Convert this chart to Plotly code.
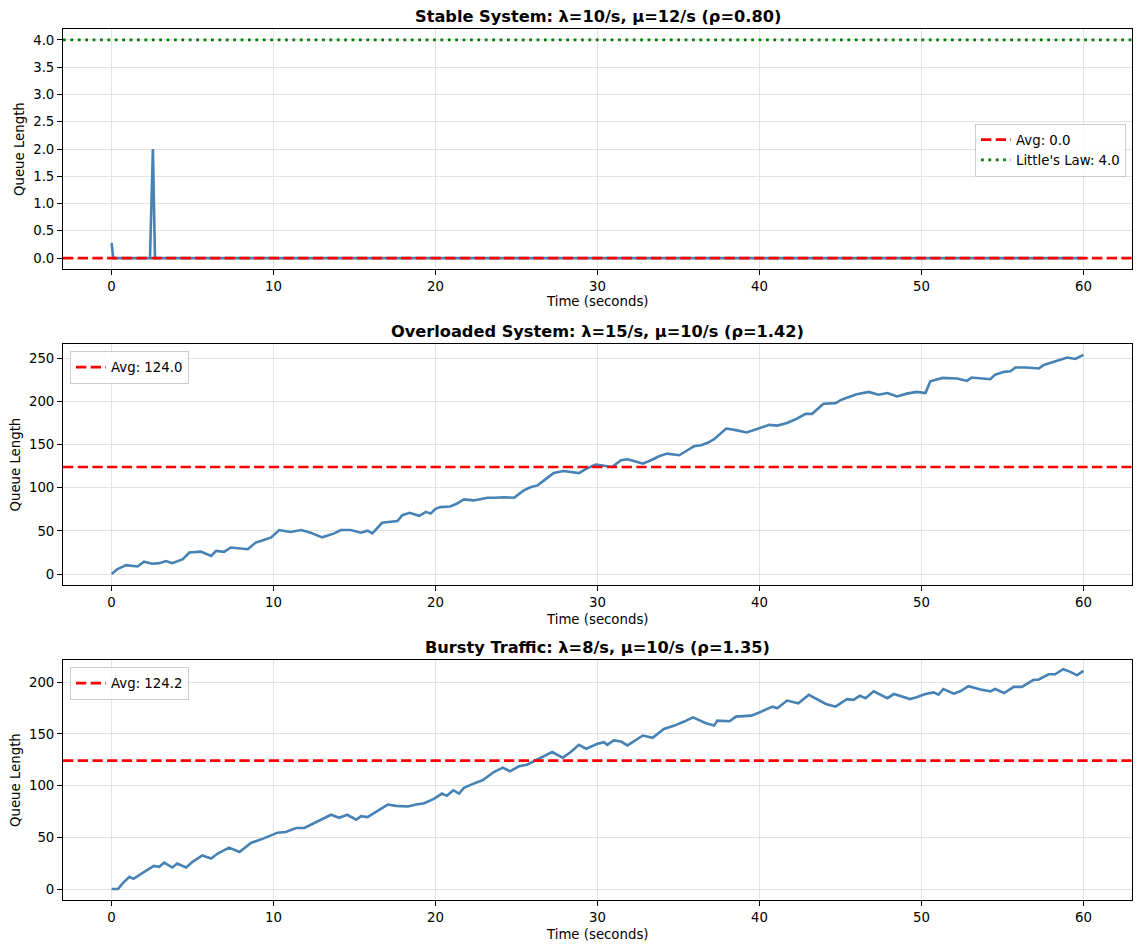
import plotly.graph_objects as go

# ---------------- data ----------------
# Panel 1: stable system
t_stable = [0.0, 0.1, 2.37, 2.45, 2.55, 2.68, 60.0]
q_stable = [0.28, 0.0, 0.0, 0.75, 2.0, 0.0, 0.0]
avg_stable = 0.0
littles_law = 4.0

# Panel 2: overloaded system
t_over = [0, 0.37, 0.9, 1.6, 2.0, 2.5, 2.95, 3.35, 3.75, 4.4, 4.8, 5.5, 6.15, 6.45, 6.95, 7.35,
          8.4, 8.9, 9.4, 9.85, 10.35, 11.05, 11.7, 12.3, 13.0, 13.75, 14.15, 14.75, 15.4, 15.8,
          16.1, 16.7, 17.65, 17.95, 18.4, 19.0, 19.4, 19.7, 20.0, 20.3, 20.9, 21.3, 21.75, 22.35,
          22.9, 23.2, 23.7, 24.2, 24.85, 25.45, 25.9, 26.3, 26.7, 27.3, 27.9, 28.35, 28.85, 29.4,
          29.9, 30.2, 30.6, 30.9, 31.45, 31.85, 32.25, 32.8, 33.3, 33.8, 34.3, 35.05, 35.55, 35.95,
          36.4, 36.8, 37.2, 37.5, 37.95, 38.55, 39.2, 39.86, 40.6, 41.1, 41.7, 42.2, 42.85, 43.25,
          43.95, 44.7, 45.1, 46.0, 46.75, 47.35, 47.9, 48.5, 49.1, 49.7, 50.25, 50.55, 51.3, 52.2,
          52.8, 53.1, 54.25, 54.55, 55.1, 55.5, 55.8, 56.5, 57.25, 57.55, 58.15, 59.0, 59.5, 60.0]
q_over = [0, 5.7, 10.3, 8.8, 14.2, 11.9, 12.6, 15, 12.6, 17.2, 24.9, 26, 21, 26.8, 25.7, 30.7,
          28.7, 36.4, 39.5, 42.5, 51, 48.7, 51, 47.9, 42.5, 47.1, 51, 51, 47.9, 50.2,
          47.1, 59.4, 61.3, 68.2, 70.9, 67.4, 72, 70, 75.6, 77.5, 78.3, 81.4, 86.4, 85.3,
          87.2, 88.4, 88.4, 89, 88.4, 96.9, 100.8, 102.7, 108.5, 117, 119.4, 118.2, 117, 122.9,
          126.7, 126, 124.8, 124, 131.8, 133, 131, 127.9, 131.8, 136.4, 139.5, 137.6, 143.4, 148,
          149.2, 152, 156.2, 160.9, 168.6, 166.7, 164, 168, 172.8, 172, 175, 179, 185.6, 185.6,
          197.3, 198, 202.3, 208.2, 211, 207.8, 209.7, 205.8, 209, 211, 209.7, 223.3, 227.2, 226.5,
          223.7, 227.6, 225.7, 231, 234.2, 235, 239.3, 239.3, 238.1, 242.2, 246, 250.8, 249.2, 253.9]
avg_over = 124.0

# Panel 3: bursty traffic
t_burst = [0, 0.4, 0.68, 1.1, 1.35, 1.8, 2.6, 2.95, 3.25, 3.75, 4.05, 4.6, 5.0, 5.6, 6.15, 6.55,
           7.25, 7.9, 8.6, 9.2, 9.85, 10.25, 10.75, 11.4, 11.9, 12.4, 13.1, 13.55, 14.05, 14.55,
           15.1, 15.4, 15.8, 16.3, 17.05, 17.55, 18.3, 18.8, 19.3, 19.9, 20.4, 20.7, 21.1, 21.45,
           21.75, 22.35, 22.9, 23.6, 24.15, 24.6, 25.15, 25.65, 26.2, 26.6, 27.2, 27.85, 28.35,
           28.85, 29.3, 30.0, 30.4, 30.6, 31.0, 31.45, 31.85, 32.8, 33.4, 34.1, 34.75, 35.35, 35.9,
           36.7, 37.2, 37.4, 38.15, 38.55, 39.5, 39.95, 40.8, 41.1, 41.7, 42.4, 43.05, 44.1, 44.7,
           45.4, 45.8, 46.2, 46.55, 47.05, 47.9, 48.3, 49.3, 49.7, 50.25, 50.75, 51.05, 51.35, 52.0,
           52.4, 52.9, 53.65, 54.25, 54.55, 55.1, 55.7, 56.2, 56.9, 57.25, 57.85, 58.25, 58.75,
           59.2, 59.6, 60.0]
q_burst = [0, 0, 5.4, 11.9, 9.9, 14.4, 22.4, 21.5, 25.6, 20.8, 24.7, 20.8, 26.3, 32.4, 29.5, 34.3,
           40, 35.9, 44.6, 47.8, 52, 54.5, 55.1, 59, 59, 63, 68, 71.8, 68.9, 71.8,
           67, 70.5, 69.6, 74.4, 81.7, 80.4, 79.8, 81.7, 83, 87.2, 92.3, 90.1, 95.5, 92.3,
           97.8, 101.9, 105.1, 113.1, 117.3, 113.8, 118.6, 120.2, 124.4, 128.2, 132.4, 126.9, 132.4,
           139.4, 135.6, 140.4, 142, 139.4, 143.6, 142.6, 138.8, 148.4, 146.2, 154.8, 158, 161.9, 166,
           160.3, 158, 162.8, 162.2, 166.7, 167.6, 170.4, 176.3, 174.7, 182.2, 179.6, 187.8, 178.9, 176.3,
           183.6, 182.9, 186.8, 184.5, 191.1, 184.5, 188.5, 183.6, 185.5, 188.5, 190.1, 187.8, 193.4, 188.8,
           191.1, 196.1, 192.8, 191.1, 193.4, 189.5, 195.4, 195.4, 202, 202.6, 207.6, 207.6, 212.5,
           209.9, 206.6, 210.9]
avg_burst = 124.2

titles = ["Stable System: λ=10/s, μ=12/s (ρ=0.80)",
          "Overloaded System: λ=15/s, μ=10/s (ρ=1.42)",
          "Bursty Traffic: λ=8/s, μ=10/s (ρ=1.35)"]

# ---------------- layout geometry ----------------
W, H = 1142, 950
X_RANGE = [-3, 63]
Y_RANGES = [[-0.2, 4.2], [-12.7, 266.5], [-10.6, 221.4]]
DTICKS = [0.5, 50, 50]
TICKFMT = [".1f", "d", "d"]
x_dom = [63 / W, 1132 / W]
panels_px = [(29, 269), (344, 585), (660, 900)]
y_doms = [[1 - b / H, 1 - t / H] for (t, b) in panels_px]

FONT = "DejaVu Sans"
FS = 13.3
BLUE = "#4682B4"
RED = "#FF0000"
GREEN = "#008000"
GRID = "#e3e3e3"

fig = go.Figure()

series = [(t_stable, q_stable), (t_over, q_over), (t_burst, q_burst)]
avgs = [avg_stable, avg_over, avg_burst]
legend_ids = ["legend", "legend2", "legend3"]

for i in range(3):
    xa = "x" if i == 0 else f"x{i+1}"
    ya = "y" if i == 0 else f"y{i+1}"
    t, q = series[i]
    fig.add_trace(go.Scatter(x=t, y=q, mode="lines", line=dict(color=BLUE, width=2.6),
                             xaxis=xa, yaxis=ya, showlegend=False, hoverinfo="skip"))
    fig.add_trace(go.Scatter(x=X_RANGE, y=[avgs[i], avgs[i]], mode="lines",
                             line=dict(color=RED, width=2.7, dash="10.3px,4.4px"),
                             name=f"Avg: {avgs[i]:.1f}", xaxis=xa, yaxis=ya,
                             legend=legend_ids[i], showlegend=True))
    if i == 0:
        fig.add_trace(go.Scatter(x=X_RANGE, y=[littles_law, littles_law], mode="lines",
                                 line=dict(color=GREEN, width=2.7, dash="2.8px,4.6px"),
                                 name=f"Little's Law: {littles_law:.1f}", xaxis=xa, yaxis=ya,
                                 legend="legend", showlegend=True))

axis_common = dict(showline=True, mirror=True, linecolor="black", linewidth=1,
                   ticks="outside", ticklen=5, tickwidth=1, tickcolor="black",
                   showgrid=True, gridcolor=GRID, gridwidth=1, zeroline=False,
                   tickfont=dict(family=FONT, size=FS, color="black"))

layout = dict(width=W, height=H, margin=dict(l=0, r=0, t=0, b=0),
              plot_bgcolor="white", paper_bgcolor="white",
              font=dict(family=FONT, size=FS, color="black"))

for i in range(3):
    xk = "xaxis" if i == 0 else f"xaxis{i+1}"
    yk = "yaxis" if i == 0 else f"yaxis{i+1}"
    ya = "y" if i == 0 else f"y{i+1}"
    xa = "x" if i == 0 else f"x{i+1}"
    layout[xk] = dict(axis_common, domain=x_dom, range=X_RANGE, tick0=0, dtick=10,
                      anchor=ya)
    layout[yk] = dict(axis_common, domain=y_doms[i], range=Y_RANGES[i], tick0=0,
                      dtick=DTICKS[i], tickformat=TICKFMT[i], anchor=xa)

legend_common = dict(bgcolor="rgba(255,255,255,0.85)", bordercolor="#cccccc", borderwidth=1,
                     font=dict(family=FONT, size=FS, color="black"), itemwidth=30,
                     tracegroupgap=0)
layout["legend"] = dict(legend_common, x=1126 / W, xanchor="right", y=1 - 150 / H,
                        yanchor="middle")
layout["legend2"] = dict(legend_common, x=70 / W, xanchor="left", y=1 - 351 / H,
                         yanchor="top")
layout["legend3"] = dict(legend_common, x=70 / W, xanchor="left", y=1 - 667 / H,
                         yanchor="top")

annotations = []
x_center = (x_dom[0] + x_dom[1]) / 2
xlabel_y_px = [302, 619, 934]
ylabel_x_px = [19, 15, 15]
for i in range(3):
    annotations.append(dict(text=f"<b>{titles[i]}</b>", xref="paper", yref="paper",
                            x=x_center, y=y_doms[i][1], yshift=12.5, xanchor="center",
                            yanchor="middle", showarrow=False,
                            font=dict(family=FONT, size=16.2, color="black")))
    annotations.append(dict(text="Time (seconds)", xref="paper", yref="paper",
                            x=x_center, y=1 - xlabel_y_px[i] / H, xanchor="center",
                            yanchor="middle", showarrow=False,
                            font=dict(family=FONT, size=FS, color="black")))
    annotations.append(dict(text="Queue Length", xref="paper", yref="paper",
                            x=ylabel_x_px[i] / W, y=(y_doms[i][0] + y_doms[i][1]) / 2,
                            xanchor="center", yanchor="middle", textangle=-90,
                            showarrow=False, font=dict(family=FONT, size=FS, color="black")))
layout["annotations"] = annotations

fig.update_layout(**layout)

fig.write_html("out.html", config={"displayModeBar": False},
               post_script="document.body.style.margin='0';document.body.style.overflow='hidden';")
